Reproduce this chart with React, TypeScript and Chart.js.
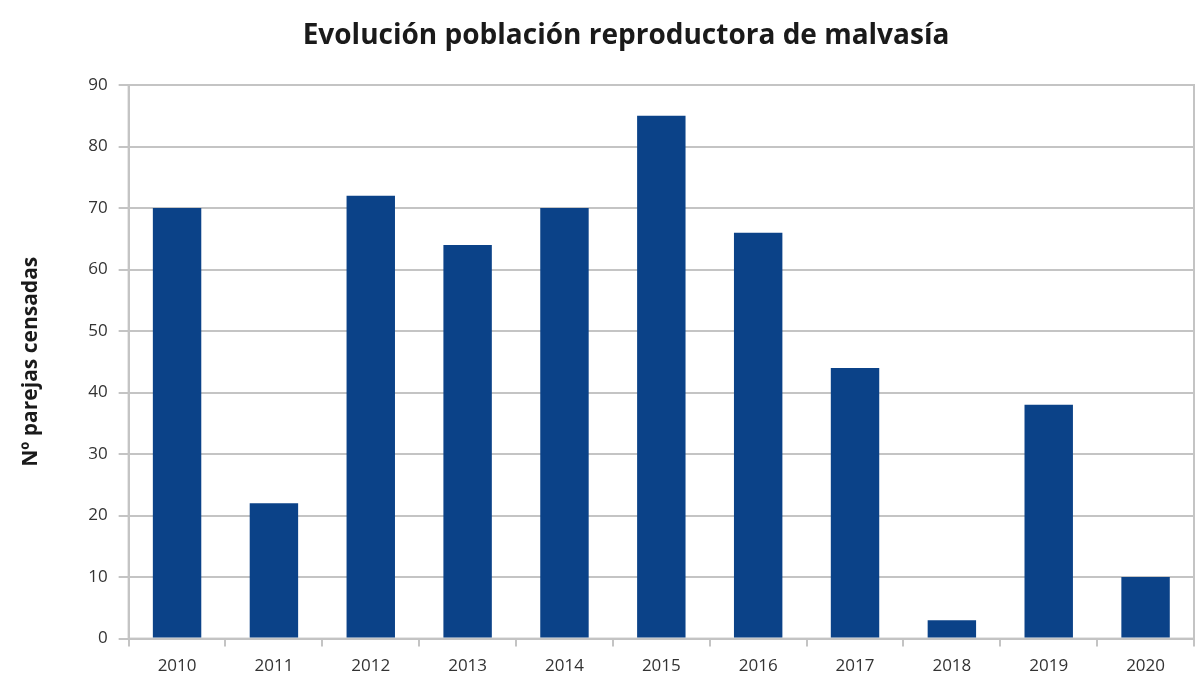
import React, { useEffect, useRef } from "react";
import { Chart, registerables } from "chart.js";

Chart.register(...registerables);

const years = ["2010", "2011", "2012", "2013", "2014", "2015", "2016", "2017", "2018", "2019", "2020"];
const parejas = [70, 22, 72, 64, 70, 85, 66, 44, 3, 38, 10];
const titleText = "Evolución población reproductora de malvasía";
const yTitle = "Nº parejas censadas";

const titlePlugin = {
  id: "customTitle",
  afterDraw(chart: any) {
    const ctx = chart.ctx;
    ctx.save();
    ctx.font = "bold 28px 'Open Sans'";
    ctx.fillStyle = "#1a1a1a";
    ctx.textAlign = "center";
    ctx.textBaseline = "middle";
    ctx.fillText(titleText, 626, 36);
    ctx.restore();
  },
};

const borderPlugin = {
  id: "areaBorder",
  beforeDatasetsDraw(chart: any) {
    const { ctx, chartArea } = chart;
    ctx.save();
    ctx.strokeStyle = "#c4c4c4";
    ctx.lineWidth = 2;
    ctx.strokeRect(chartArea.left, chartArea.top, chartArea.right - chartArea.left, chartArea.bottom - chartArea.top);
    ctx.restore();
  },
};

export default function App() {
  const ref = useRef<HTMLCanvasElement>(null);
  useEffect(() => {
    document.body.style.margin = "0";
    const chart = new Chart(ref.current!, {
      type: "bar",
      data: {
        labels: years,
        datasets: [
          {
            data: parejas,
            backgroundColor: "#0b4288",
            categoryPercentage: 1,
            barPercentage: 0.5,
          },
        ],
      },
      options: {
        animation: false,
        responsive: false,
        layout: { padding: { top: 85, right: 3, bottom: 5, left: 18 } },
        plugins: { legend: { display: false }, title: { display: false }, tooltip: { enabled: false } },
        scales: {
          x: {
            offset: true,
            grid: { offset: true, drawOnChartArea: false, drawTicks: true, tickLength: 8, color: "#c4c4c4", lineWidth: 2 },
            border: { display: true, color: "#c4c4c4", width: 2 },
            ticks: { font: { family: "'Open Sans'", size: 17 }, color: "#333", padding: 9 },
          },
          y: {
            min: 0,
            max: 90,
            ticks: { stepSize: 10, font: { family: "'Open Sans'", size: 17 }, color: "#333", padding: 11 },
            grid: { color: "#c4c4c4", lineWidth: 2, tickLength: 10 },
            border: { display: true, color: "#c4c4c4", width: 2 },
            title: { display: true, text: yTitle, font: { family: "'Open Sans'", size: 21, weight: "bold" }, color: "#1a1a1a", padding: { top: 0, bottom: 34 } },
          },
        },
      },
      plugins: [titlePlugin, borderPlugin],
    });
    return () => chart.destroy();
  }, []);
  return (
    <div style={{ width: 1197, height: 690 }}>
      <canvas ref={ref} width={1197} height={690} />
    </div>
  );
}
